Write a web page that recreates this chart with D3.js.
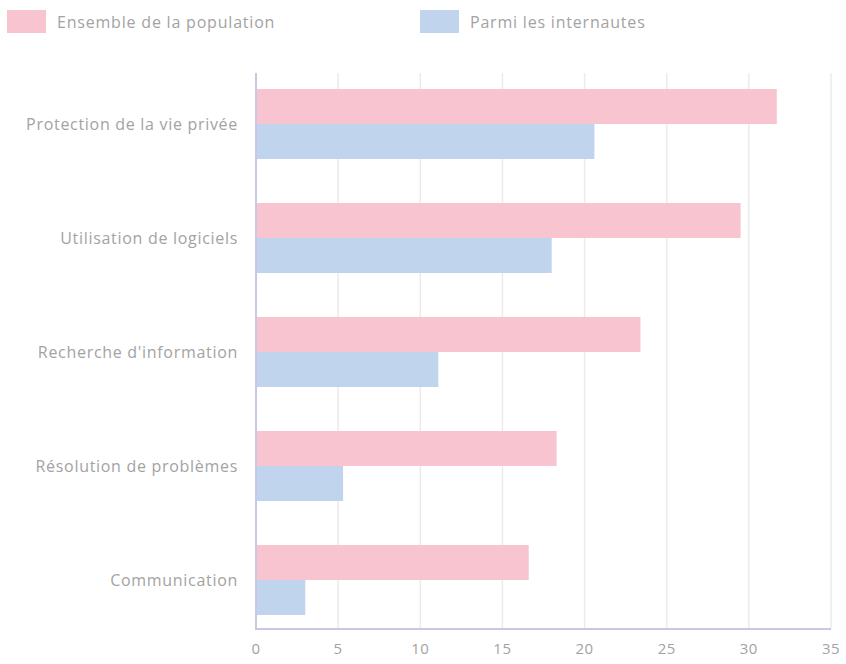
<!DOCTYPE html>
<html>
<head>
<meta charset="utf-8">
<script src="https://cdn.jsdelivr.net/npm/d3@7"></script>
<style>
  body { margin: 0; background: #fff; }
  text { font-family: "Open Sans", sans-serif; fill: #a3a3a3; }
</style>
</head>
<body>
<svg id="chart0"></svg>
<script>
// categories, top to bottom
var categories = ['Protection de la vie privée', 'Utilisation de logiciels',
                  "Recherche d'information", 'Résolution de problèmes', 'Communication'];
var series_names = ['Ensemble de la population', 'Parmi les internautes'];
var values_population = [31.7, 29.5, 23.4, 18.3, 16.6];
var values_internautes = [20.6, 18.0, 11.1, 5.3, 3.0];
var ticks_x = [0, 5, 10, 15, 20, 25, 30, 35];

var colors = ['#f7c4d0', '#c0d4ee'];

var width = 846;
var height = 664;
var plot = {'left': 256, 'right': 831, 'top': 73, 'bottom': 629};

var svg = d3.select('#chart0')
	.attr('width', width)
	.attr('height', height);

var x_conv = d3.scaleLinear()
	.domain([0, 35])
	.range([plot.left, plot.right]);

var y_conv = d3.scaleBand()
	.domain(categories)
	.range([67, 637])
	.paddingInner(0.386)
	.paddingOuter(0.193);

var sub_conv = d3.scaleBand()
	.domain([0, 1])
	.range([0, y_conv.bandwidth()]);

// gridlines
svg.selectAll('line.grid')
	.data(ticks_x.slice(1)).enter()
	.append('line')
	.attr('x1', function(d) { return x_conv(d); })
	.attr('x2', function(d) { return x_conv(d); })
	.attr('y1', plot.top)
	.attr('y2', plot.bottom)
	.attr('stroke', '#ebebeb')
	.attr('stroke-width', 1.5);

// bars
var series = [values_population, values_internautes];
series.forEach(function(vals, s) {
	svg.selectAll('rect.s' + s)
		.data(vals).enter()
		.append('rect')
		.attr('class', 's' + s)
		.attr('x', x_conv(0))
		.attr('y', function(d, i) { return y_conv(categories[i]) + sub_conv(s); })
		.attr('width', function(d) { return x_conv(d) - x_conv(0); })
		.attr('height', sub_conv.bandwidth())
		.attr('fill', colors[s]);
});

// axis lines
svg.append('line')
	.attr('x1', plot.left).attr('x2', plot.left)
	.attr('y1', plot.top).attr('y2', plot.bottom)
	.attr('stroke', '#c9c6e6').attr('stroke-width', 2);
svg.append('line')
	.attr('x1', plot.left - 1).attr('x2', plot.right)
	.attr('y1', plot.bottom).attr('y2', plot.bottom)
	.attr('stroke', '#c9c6e6').attr('stroke-width', 2);

// tick labels
svg.selectAll('text.tick')
	.data(ticks_x).enter()
	.append('text')
	.attr('x', function(d) { return x_conv(d); })
	.attr('y', 654)
	.attr('text-anchor', 'middle')
	.style('font-size', '15px')
	.style('letter-spacing', '0.5px')
	.text(function(d) { return d; });

// category labels
svg.selectAll('text.cat')
	.data(categories).enter()
	.append('text')
	.attr('x', 238)
	.attr('y', function(d) { return y_conv(d) + y_conv.bandwidth() / 2; })
	.attr('dy', '0.35em')
	.attr('text-anchor', 'end')
	.style('font-size', '16px')
	.style('letter-spacing', '0.7px')
	.text(function(d) { return d; });

// legend
var legend_x = [7, 420];
var legend = svg.selectAll('g.legend')
	.data(series_names).enter()
	.append('g')
	.attr('transform', function(d, i) { return 'translate(' + legend_x[i] + ',10)'; });
legend.append('rect')
	.attr('width', 39)
	.attr('height', 23)
	.attr('fill', function(d, i) { return colors[i]; });
legend.append('text')
	.attr('x', 50)
	.attr('y', 12)
	.attr('dy', '0.35em')
	.style('font-size', '16px')
	.style('letter-spacing', '0.8px')
	.text(function(d) { return d; });
</script>
</body>
</html>
